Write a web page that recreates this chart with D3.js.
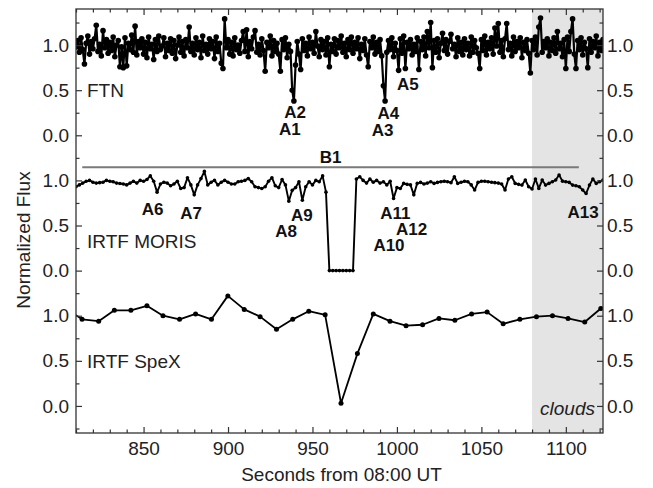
<!DOCTYPE html>
<html><head><meta charset="utf-8">
<script src="https://cdn.jsdelivr.net/npm/d3@7"></script>
<style>body{margin:0;background:#fff}svg{display:block}</style>
</head><body><svg id="c" width="653" height="488"></svg>
<script>
// ---------------- DATA ----------------
// FTN: 1 s cadence starting at 810 s
const ftnStart = 810, ftnStep = 1;
const ftnFlux = [
0.98,1.05,0.92,1.08,0.95,0.79,1.02,1.10,0.90,1.04,
0.96,1.07,1.22,0.93,1.01,0.88,1.16,0.97,1.06,0.91,
1.03,0.94,1.09,0.87,1.00,1.05,0.76,0.98,0.75,1.08,
0.77,1.02,0.95,1.11,0.92,1.21,0.89,1.04,0.97,1.07,
0.90,1.03,0.86,1.09,0.96,1.01,0.84,1.06,0.93,1.10,
0.95,0.99,1.08,0.87,1.02,0.94,1.07,0.91,1.05,0.85,
1.00,1.09,0.92,1.04,0.88,1.06,0.97,1.20,0.93,1.02,
0.89,1.08,0.95,1.03,0.86,1.10,0.94,1.01,0.90,1.07,
0.96,1.04,0.85,1.09,0.93,1.02,0.80,0.74,1.29,0.97,
1.06,0.90,1.03,0.88,1.08,0.95,1.00,0.91,1.05,1.15,
0.93,1.17,0.87,1.04,0.96,1.09,1.16,0.92,1.01,0.89,
1.07,0.94,0.71,1.03,0.97,1.10,0.88,1.05,0.93,1.02,
0.90,0.71,1.06,0.95,1.08,0.86,1.01,0.93,0.50,0.38,
0.78,1.04,0.90,0.73,1.07,0.94,1.02,0.88,1.09,0.96,
1.03,0.91,1.15,0.99,0.87,1.06,0.95,1.04,0.89,1.08,
0.76,1.01,0.93,1.07,0.90,1.05,0.97,1.10,0.92,1.02,
0.87,1.06,0.95,1.09,0.91,1.03,0.96,1.08,0.85,1.01,
0.94,1.07,0.89,0.76,1.04,0.97,1.09,0.90,1.03,0.93,
1.06,0.88,0.55,0.38,0.92,1.05,0.95,1.08,0.87,1.02,
0.94,0.72,1.07,0.91,1.10,0.74,1.03,0.96,1.06,0.89,
1.01,0.93,1.08,0.73,1.04,0.95,1.09,0.88,1.15,0.97,
1.25,0.75,1.05,0.92,1.07,0.86,1.02,1.13,0.94,1.06,
0.90,1.04,1.12,0.96,1.01,0.87,1.08,0.93,1.03,0.89,
1.07,0.95,1.02,0.88,1.09,0.92,1.05,0.97,0.91,0.74,
1.06,0.94,1.10,0.89,1.03,0.96,1.08,0.90,1.19,0.99,
1.24,0.92,1.05,0.87,1.07,1.24,0.95,1.02,0.88,1.09,
0.93,1.04,0.97,1.08,0.86,1.03,0.94,1.06,0.91,0.69,
1.05,0.95,1.09,0.89,1.20,1.30,0.92,1.04,0.97,1.07,
0.88,1.03,0.94,1.08,0.91,1.15,0.96,1.02,0.87,1.06,
0.74,1.09,0.93,1.15,1.29,0.90,0.74,1.05,0.95,1.08,
0.89,1.03,0.96,0.75,1.07,0.92,1.04,0.97,1.10,0.88,
1.03,0.94,1.06
];
// IRTF MORIS: 2 s cadence starting at 810 s
const morisStart = 810, morisStep = 2;
const morisFlux = [
0.93,0.95,0.97,0.99,1.00,0.98,0.97,0.975,0.98,1.00,
0.99,0.985,0.97,0.965,0.96,0.95,0.97,0.99,0.97,1.00,
0.99,1.01,1.05,0.99,0.87,0.96,0.98,0.97,0.94,0.96,
0.99,0.91,0.92,1.03,0.95,0.84,0.95,1.02,1.10,0.95,
0.98,1.00,0.95,0.98,1.00,0.98,0.96,0.96,0.985,0.99,
1.00,1.02,0.985,0.93,0.92,0.91,0.93,0.99,1.03,0.94,
0.92,1.01,0.95,0.77,0.89,0.92,0.985,0.78,0.93,0.985,
0.95,1.00,0.985,1.05,0.87,0.00,0.00,0.00,0.00,0.00,
0.00,0.00,0.00,1.015,1.04,1.00,0.97,1.015,0.98,1.00,
0.97,0.985,0.95,0.99,0.80,0.92,0.91,0.967,0.956,0.95,
0.84,0.967,0.978,0.96,0.97,0.985,0.967,0.978,0.985,0.99,
0.985,0.975,1.04,0.967,0.98,0.99,0.985,0.95,0.893,0.978,
0.99,0.99,0.985,0.98,0.975,0.97,0.96,0.893,1.015,1.04,
0.967,0.956,0.948,1.004,0.93,0.904,1.015,0.911,1.004,0.948,
0.967,0.985,1.004,1.06,0.992,0.985,0.978,0.948,0.94,0.93,
0.893,0.855,0.948,1.015,0.967,0.985,1.004
];
// IRTF SpeX
const spexTime = [804.0,813.6,823.4,832.7,842.5,852.0,861.5,871.3,880.8,890.2,
  899.9,909.6,919.0,928.7,938.3,947.8,957.5,966.9,976.6,986.0,
  995.9,1005.4,1015.2,1024.9,1034.3,1044.2,1053.4,1062.9,1072.8,1082.6,
  1092.1,1101.3,1111.2,1120.7];
const spexFlux = [1.08,0.96,0.94,1.06,1.06,1.11,1.00,0.96,1.02,0.96,
  1.22,1.07,0.99,0.85,0.96,1.05,1.01,0.03,0.58,1.02,
  0.94,0.89,0.90,0.97,0.95,1.02,1.04,0.91,0.96,0.99,
  1.00,0.97,0.93,1.08];

const panelNames = ["FTN", "IRTF MORIS", "IRTF SpeX"];
const panelOffsets = [3, 1.5, 0];
const panelLabelLevel = [0.5, 0.33, 0.5];
const xDomain = [810, 1122];
const yDomain = [-0.3, 4.4];
const xMajorTicks = [850, 900, 950, 1000, 1050, 1100];
const yTickLabels = ["0.0", "0.5", "1.0"];
const cloudStart = 1080;
const cloudLabel = "clouds";
// event labels: name, panel index, time, panel value (text baseline)
const eventNames = ["A1","A2","A3","A4","A5","A6","A7","A8","A9","A10","A11","A12","A13"];
const eventPanel = [0,0,0,0,0,1,1,1,1,1,1,1,1];
const eventTime = [936.6,939.7,991.5,994.9,1006.5,855.4,878.2,934.4,943.7,995.3,999.1,1008.7,1110.2];
const eventValue = [0.003,0.192,-0.008,0.181,0.502,0.617,0.573,0.373,0.550,0.212,0.573,0.395,0.584];
const bandName = "B1";
const bandStart = 813.7, bandEnd = 1107.7, bandValue = 1.145, bandPanel = 1;

// ---------------- CHART ----------------
const svg = d3.select("#c");
const L = 76, R = 603, T = 9, B = 433;
const x = d3.scaleLinear().domain(xDomain).range([L, R]);
const y = d3.scaleLinear().domain(yDomain).range([B, T]);
const FONT = "'Liberation Sans', Arial, Helvetica, sans-serif";
const axisColor = "#333";

svg.append("defs").append("clipPath").attr("id", "clip")
  .append("rect").attr("x", L).attr("y", T).attr("width", R - L).attr("height", B - T);

// clouds shading
svg.append("rect").attr("x", x(cloudStart)).attr("y", T)
  .attr("width", x(xDomain[1]) - x(cloudStart)).attr("height", B - T)
  .attr("fill", "#e4e4e4");

const plot = svg.append("g").attr("clip-path", "url(#clip)");

function drawSeries(times, vals, off, r, lw) {
  const pts = vals.map((v, i) => [times[i], v + off]);
  plot.append("path").datum(pts)
    .attr("fill", "none").attr("stroke", "#000").attr("stroke-width", lw)
    .attr("stroke-linejoin", "round")
    .attr("d", d3.line().x(d => x(d[0])).y(d => y(d[1])));
  plot.append("g").selectAll("circle").data(pts).join("circle")
    .attr("cx", d => x(d[0])).attr("cy", d => y(d[1])).attr("r", r).attr("fill", "#000");
}
drawSeries(ftnFlux.map((_, i) => ftnStart + i * ftnStep), ftnFlux, panelOffsets[0], 2.8, 2.2);
drawSeries(morisFlux.map((_, i) => morisStart + i * morisStep), morisFlux, panelOffsets[1], 1.8, 1.9);
drawSeries(spexTime, spexFlux, panelOffsets[2], 2.5, 1.8);

// B1 band line
svg.append("line").attr("x1", x(bandStart)).attr("x2", x(bandEnd))
  .attr("y1", y(bandValue + panelOffsets[bandPanel])).attr("y2", y(bandValue + panelOffsets[bandPanel]))
  .attr("stroke", "#7a7a7a").attr("stroke-width", 2);
svg.append("text").attr("x", (x(bandStart) + x(bandEnd)) / 2).attr("y", y(1.193 + panelOffsets[bandPanel]))
  .attr("text-anchor", "middle").attr("font-family", FONT).attr("font-weight", "bold")
  .attr("font-size", 17).attr("fill", "#111").text(bandName);

// event labels
svg.append("g").selectAll("text").data(eventNames).join("text")
  .attr("x", (d, i) => x(eventTime[i]))
  .attr("y", (d, i) => y(eventValue[i] + panelOffsets[eventPanel[i]]))
  .attr("text-anchor", "middle").attr("font-family", FONT).attr("font-weight", "bold")
  .attr("font-size", 17).attr("fill", "#111").text(d => d);

// panel labels
svg.append("g").selectAll("text").data(panelNames).join("text")
  .attr("x", L + 11).attr("y", (d, i) => y(panelLabelLevel[i] + panelOffsets[i]) + 7)
  .attr("font-family", FONT).attr("font-size", 19).attr("fill", "#222").text(d => d);

// clouds label
svg.append("text").attr("x", (x(cloudStart) + x(xDomain[1])) / 2).attr("y", y(-0.1))
  .attr("text-anchor", "middle").attr("font-family", FONT).attr("font-style", "italic")
  .attr("font-size", 19).attr("fill", "#222").text(cloudLabel);

// ---------------- AXES ----------------
const xMinor = d3.range(810, 1123, 10).filter(v => !xMajorTicks.includes(v));
const yMajor = d3.range(0, 4.01, 0.5);
const yMinor = d3.range(-0.25, 4.3, 0.5);
const yFmt = v => {
  const p = v >= 2.75 ? v - 3 : (v >= 1.25 ? v - 1.5 : v);
  return yTickLabels[Math.round(Math.abs(p) * 2)];
};
function styleAxis(g) {
  g.select(".domain").remove();
  g.selectAll("line").attr("stroke", axisColor).attr("stroke-width", 1.2);
  g.selectAll("text").attr("font-family", FONT).attr("font-size", 19).attr("fill", "#222");
}
// bottom
svg.append("g").attr("transform", `translate(0,${B})`)
  .call(d3.axisBottom(x).tickValues(xMinor).tickSize(-3.5).tickFormat("")).call(styleAxis);
svg.append("g").attr("transform", `translate(0,${B})`)
  .call(d3.axisBottom(x).tickValues(xMajorTicks).tickSize(-6).tickPadding(9).tickFormat(d3.format("d"))).call(styleAxis);
// top
svg.append("g").attr("transform", `translate(0,${T})`)
  .call(d3.axisTop(x).tickValues(xMinor).tickSize(-3.5).tickFormat("")).call(styleAxis);
svg.append("g").attr("transform", `translate(0,${T})`)
  .call(d3.axisTop(x).tickValues(xMajorTicks).tickSize(-6).tickFormat("")).call(styleAxis);
// left
svg.append("g").attr("transform", `translate(${L},0)`)
  .call(d3.axisLeft(y).tickValues(yMinor).tickSize(-3.5).tickFormat("")).call(styleAxis);
svg.append("g").attr("transform", `translate(${L},0)`)
  .call(d3.axisLeft(y).tickValues(yMajor).tickSize(-6).tickPadding(7).tickFormat(yFmt)).call(styleAxis);
// right
svg.append("g").attr("transform", `translate(${R},0)`)
  .call(d3.axisRight(y).tickValues(yMinor).tickSize(-3.5).tickFormat("")).call(styleAxis);
svg.append("g").attr("transform", `translate(${R},0)`)
  .call(d3.axisRight(y).tickValues(yMajor).tickSize(-6).tickPadding(4).tickFormat(yFmt)).call(styleAxis);

// frame
svg.append("rect").attr("x", L).attr("y", T).attr("width", R - L).attr("height", B - T)
  .attr("fill", "none").attr("stroke", axisColor).attr("stroke-width", 1.3);

// axis titles
svg.append("text").attr("x", (L + R) / 2 + 2).attr("y", 481)
  .attr("text-anchor", "middle").attr("font-family", FONT).attr("font-size", 19)
  .attr("fill", "#222").text("Seconds from 08:00 UT");
svg.append("text").attr("transform", `translate(30,${(T + B) / 2 + 19}) rotate(-90)`)
  .attr("text-anchor", "middle").attr("font-family", FONT).attr("font-size", 19)
  .attr("fill", "#222").text("Normalized Flux");
</script></body></html>
